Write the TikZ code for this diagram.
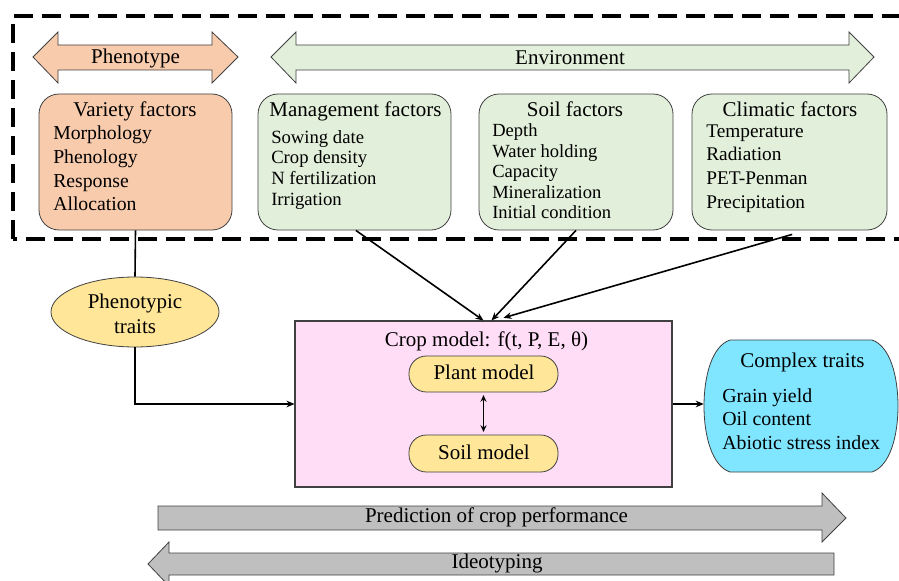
\documentclass[tikz,border=0pt]{standalone}
\usepackage{fontspec}
\setmainfont{Liberation Serif}
\usetikzlibrary{arrows.meta,shapes.geometric,fit}

\definecolor{salmon}{HTML}{F8CBAD}
\definecolor{sage}{HTML}{E2EFDA}
\definecolor{butter}{HTML}{FFE699}
\definecolor{blush}{HTML}{FFDDF6}
\definecolor{sky}{HTML}{80E5FF}
\definecolor{stone}{HTML}{BFBFBF}
\definecolor{edge}{HTML}{404040}

\begin{document}
\begin{tikzpicture}[x=0.75pt,y=-0.75pt,
  big/.style={font=\fontsize{15.75}{18}\selectfont, inner sep=0pt, anchor=base},
  itm/.style={font=\fontsize{#1}{16}\selectfont, inner sep=0pt, anchor=base west},
  itm/.default=14.3,
  factor/.style={draw=edge, line width=0.6pt, rounded corners=15pt, inner sep=0pt},
  pill/.style={draw=edge, line width=0.6pt, fill=butter, rounded corners=13pt, inner sep=0pt},
  band/.style={draw=edge, line width=0.6pt},
  link/.style={line width=1.2pt, -{Stealth[length=6pt,width=5pt]}},
]
\useasboundingbox (0,0) rectangle (899,581);

% ---- top band arrows ----
\draw[band, fill=salmon] (33,57) -- (58,32) -- (58,45) -- (212,45) -- (212,32) -- (238,57)
  -- (212,83) -- (212,70) -- (58,70) -- (58,83) -- cycle;
\node[big] (pheno) at (135.5,64) {Phenotype};

\draw[band, fill=sage] (271,57) -- (296,32) -- (296,45) -- (849,45) -- (849,32) -- (874,57)
  -- (849,83) -- (849,70) -- (296,70) -- (296,83) -- cycle;
\node[big] (env) at (570,65) {Environment};

% ---- factor boxes ----
\node[factor, fill=salmon, fit={(39,94) (232,230)}] (var) {};
\node[big] (varT) at (135,117) {Variety factors};
\foreach \t [count=\i] in {Morphology, Phenology, Response, Allocation}
  \node[itm=14.8] (var\i) at (53,{116+23.7*\i}) {\t};

\node[factor, fill=sage, fit={(258,94) (451,230)}] (mgmt) {};
\node[big] (mgmtT) at (355.5,117) {Management factors};
\foreach \t [count=\i] in {Sowing date, Crop density, N fertilization, Irrigation}
  \node[itm=14] (mgmt\i) at (271,{122.5+20.7*\i}) {\t};

\node[factor, fill=sage, fit={(479,94) (673,230)}] (soil) {};
\node[big] (soilT) at (575,117) {Soil factors};
\foreach \t [count=\i] in {Depth, Water holding, Capacity, Mineralization, Initial condition}
  \node[itm=13.9] (soil\i) at (492,{116.5+20.5*\i}) {\t};

\node[factor, fill=sage, fit={(692,94) (887,230)}] (clim) {};
\node[big] (climT) at (790,117) {Climatic factors};
\foreach \t [count=\i] in {Temperature, Radiation, PET-Penman, Precipitation}
  \node[itm=14.5] (clim\i) at (706,{113.5+23.7*\i}) {\t};

% ---- dashed frame around the inputs ----
\draw[line width=3pt, dash pattern=on 14pt off 7pt] (13,239) -- (13,16) -- (940,16) -- (940,239) -- cycle;

% ---- phenotypic traits ----
\node[ellipse, draw=edge, line width=0.6pt, fill=butter, minimum width=126pt,
      minimum height=52.5pt, inner sep=0pt] (ph) at (135,312) {};
\node[big] (ph1) at (135,308) {Phenotypic};
\node[big] (ph2) at (135,333) {traits};

% ---- crop model ----
\node[draw=edge, line width=0.8pt, fill=blush, inner sep=0pt, fit={(295,321) (672,487)}] (crop) {};
\node[big] (cropT) at (486.5,346) {Crop model: f(t, P, E, θ)};
\node[pill, fit={(409,356) (558,392)}] (plant) {};
\node[big] (plantT) at (484,379) {Plant model};
\node[pill, fit={(409,435) (558,472)}] (soilm) {};
\node[big] (soilmT) at (484,459) {Soil model};

% ---- complex traits ----
\node[inner sep=0pt, fit={(704,340) (898,472)}] (ct) {};
\draw[draw=edge, line width=0.6pt, fill=sky] (730,340) -- (872,340)
  .. controls (890,346) and (898,376) .. (898,406)
  .. controls (898,436) and (890,466) .. (872,472) -- (730,472)
  .. controls (712,466) and (704,436) .. (704,406)
  .. controls (704,376) and (712,346) .. (730,340) -- cycle;
\node[big] (ctT) at (802.5,367) {Complex traits};
\foreach \t [count=\i] in {Grain yield, Oil content, Abiotic stress index}
  \node[itm=14.9] (ct\i) at (722,{378.5+23.5*\i}) {\t};

% ---- bottom process arrows ----
\draw[band, fill=stone] (158,506) -- (822,506) -- (822,493) -- (846,518) -- (822,542)
  -- (822,530) -- (158,530) -- cycle;
\node[big] (pred) at (496.5,522) {Prediction of crop performance};

\draw[band, fill=stone] (834,553) -- (169,553) -- (169,542) -- (148,564) -- (169,586)
  -- (169,575) -- (834,575) -- cycle;
\node[big] (ideo) at (497,568) {Ideotyping};

% ---- connectors ----
\draw[line width=1.2pt] (var.south) -- (ph.north);
\draw[link] (ph.south) |- (crop.west);
\draw[link] ([xshift=1pt]mgmt.south) -- (crop.north);
\draw[link] (soil.south) -- ([xshift=6pt]crop.north);
\draw[link] ([xshift=2pt,yshift=-3pt]clim.south) -- ([xshift=15pt,yshift=2pt]crop.north);
\draw[link] (crop.east) -- (crop.east -| ct.west);
\draw[line width=1.2pt, {Stealth[length=5pt,width=4.5pt]}-{Stealth[length=5pt,width=4.5pt]}]
  ([yshift=-2pt]plant.south) -- ([yshift=2pt]soilm.north);
\end{tikzpicture}
\end{document}
